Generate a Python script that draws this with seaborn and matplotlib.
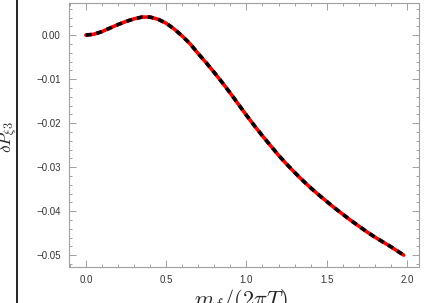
import numpy as np
import pandas as pd
import matplotlib
matplotlib.use("Agg")
import matplotlib.pyplot as plt
import seaborn as sns
from matplotlib.ticker import MultipleLocator
from matplotlib.lines import Line2D

x_vals = [0.0, 0.05, 0.1, 0.15, 0.2, 0.25, 0.3, 0.35, 0.4, 0.45, 0.5, 0.55, 0.6, 0.65, 0.7, 0.75,
          0.8, 0.85, 0.9, 0.95, 1.0, 1.05, 1.1, 1.15, 1.2, 1.25, 1.3, 1.35, 1.4, 1.45, 1.5, 1.55,
          1.6, 1.65, 1.7, 1.75, 1.8, 1.85, 1.9, 1.95, 1.98]
y_vals = [0.0, 0.0002, 0.0008, 0.0016, 0.0024, 0.0031, 0.0037, 0.0041, 0.0041, 0.0036, 0.0027,
          0.0014, -0.0002, -0.0020, -0.0042, -0.0063, -0.0085, -0.0108, -0.0132, -0.0157, -0.0182,
          -0.0206, -0.0229, -0.0251, -0.0273, -0.0293, -0.0312, -0.0330, -0.0347, -0.0363, -0.0378,
          -0.0393, -0.0407, -0.0421, -0.0434, -0.0447, -0.0459, -0.0470, -0.0481, -0.0493, -0.0500]

df = pd.DataFrame({"x": x_vals, "y": y_vals})

sns.set_style("white")
plt.rcParams["font.family"] = ["Liberation Sans", "DejaVu Sans"]
plt.rcParams["mathtext.fontset"] = "cm"

fig = plt.figure(figsize=(4.24, 3.03), dpi=100)
ax = fig.add_axes([69/424, 36/303, 350/424, 264/303])

sns.lineplot(data=df, x="x", y="y", ax=ax, color="#ff0000", linewidth=2.6, estimator=None, sort=False)
sns.lineplot(data=df, x="x", y="y", ax=ax, color="black", linewidth=2.6, estimator=None, sort=False,
             dashes=False, linestyle=(0, (1.6, 1.4)))

ax.set_xlim(-0.105, 2.075)
ax.set_ylim(-0.0527, 0.0073)
ax.xaxis.set_major_locator(MultipleLocator(0.5))
ax.xaxis.set_minor_locator(MultipleLocator(0.1))
ax.yaxis.set_major_locator(MultipleLocator(0.01))
ax.yaxis.set_minor_locator(MultipleLocator(0.002))
ax.xaxis.set_major_formatter(matplotlib.ticker.FormatStrFormatter("%.1f"))


def yfmt(v, p):
    v = round(v, 4)
    if abs(v) < 1e-9:
        return "0.00"
    return ("%.2f" % v).replace("-", "\u2212")


ax.yaxis.set_major_formatter(matplotlib.ticker.FuncFormatter(yfmt))

for s in ax.spines.values():
    s.set_color("#a0a0a0")
    s.set_linewidth(0.8)
ax.tick_params(which="both", direction="in", top=True, right=True, bottom=True, left=True,
               color="#a0a0a0", width=0.7)
ax.tick_params(which="major", length=5, labelsize=7, labelcolor="#333333", pad=6)
ax.tick_params(which="minor", length=2.5)
ax.set_xlabel("")
ax.set_ylabel("")

fig.text(241/424, 1 - 301/303, r"$m_f/(2\pi T)$", fontsize=16, ha="center", va="center")
fig.text(9/424, 1 - 137/303, r"$\delta P_{\xi 3}$", fontsize=12.5, ha="center", va="center", rotation=90)
fig.add_artist(Line2D([16.5/424, 16.5/424], [0, 1], transform=fig.transFigure, color="black", linewidth=1.2))

fig.savefig("out.png", dpi=100)
